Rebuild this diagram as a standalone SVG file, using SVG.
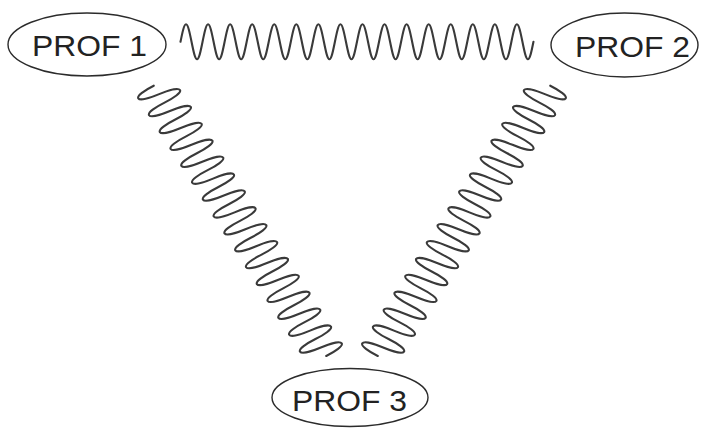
<svg xmlns="http://www.w3.org/2000/svg" width="702" height="428" viewBox="0 0 702 428">
  <style>
    .node ellipse { fill: #ffffff; stroke: #2b2b2b; stroke-width: 1.4; }
    .node text { font-family: "Liberation Sans", Arial, sans-serif; font-size: 29px; fill: #222222; }
    .spring { fill: none; stroke: #3a3a3a; stroke-width: 2.1; stroke-linecap: round; stroke-linejoin: round; }
  </style>
  <defs>
    <!-- sixteen periods of a unit sine wave (x in periods, y in amplitudes), built from quarter-wave cubics -->
    <path id="wave16" vector-effect="non-scaling-stroke" d="M0 0 c0.08153 0.5123 0.15952 1 0.25 1 s0.16847 -0.4877 0.25 -1 s0.15952 -1 0.25 -1 s0.16847 0.4877 0.25 1
      s0.15952 1 0.25 1 s0.16847 -0.4877 0.25 -1 s0.15952 -1 0.25 -1 s0.16847 0.4877 0.25 1
      s0.15952 1 0.25 1 s0.16847 -0.4877 0.25 -1 s0.15952 -1 0.25 -1 s0.16847 0.4877 0.25 1
      s0.15952 1 0.25 1 s0.16847 -0.4877 0.25 -1 s0.15952 -1 0.25 -1 s0.16847 0.4877 0.25 1
      s0.15952 1 0.25 1 s0.16847 -0.4877 0.25 -1 s0.15952 -1 0.25 -1 s0.16847 0.4877 0.25 1
      s0.15952 1 0.25 1 s0.16847 -0.4877 0.25 -1 s0.15952 -1 0.25 -1 s0.16847 0.4877 0.25 1
      s0.15952 1 0.25 1 s0.16847 -0.4877 0.25 -1 s0.15952 -1 0.25 -1 s0.16847 0.4877 0.25 1
      s0.15952 1 0.25 1 s0.16847 -0.4877 0.25 -1 s0.15952 -1 0.25 -1 s0.16847 0.4877 0.25 1
      s0.15952 1 0.25 1 s0.16847 -0.4877 0.25 -1 s0.15952 -1 0.25 -1 s0.16847 0.4877 0.25 1
      s0.15952 1 0.25 1 s0.16847 -0.4877 0.25 -1 s0.15952 -1 0.25 -1 s0.16847 0.4877 0.25 1
      s0.15952 1 0.25 1 s0.16847 -0.4877 0.25 -1 s0.15952 -1 0.25 -1 s0.16847 0.4877 0.25 1
      s0.15952 1 0.25 1 s0.16847 -0.4877 0.25 -1 s0.15952 -1 0.25 -1 s0.16847 0.4877 0.25 1
      s0.15952 1 0.25 1 s0.16847 -0.4877 0.25 -1 s0.15952 -1 0.25 -1 s0.16847 0.4877 0.25 1
      s0.15952 1 0.25 1 s0.16847 -0.4877 0.25 -1 s0.15952 -1 0.25 -1 s0.16847 0.4877 0.25 1
      s0.15952 1 0.25 1 s0.16847 -0.4877 0.25 -1 s0.15952 -1 0.25 -1 s0.16847 0.4877 0.25 1
      s0.15952 1 0.25 1 s0.16847 -0.4877 0.25 -1 s0.15952 -1 0.25 -1 s0.16847 0.4877 0.25 1"/>
    <!-- sixteen coil turns: the same wave, but the advance along the axis bunches up at the
         turning points so that each turn closes into a rounded, oval-ended loop -->
    <path id="coil16" vector-effect="non-scaling-stroke" d="M0 0 c0.01667 0.5236 0.1 1 0.25 1 s0.2333 -0.4764 0.25 -1 s0.1 -1 0.25 -1 s0.2333 0.4764 0.25 1
      s0.1 1 0.25 1 s0.2333 -0.4764 0.25 -1 s0.1 -1 0.25 -1 s0.2333 0.4764 0.25 1
      s0.1 1 0.25 1 s0.2333 -0.4764 0.25 -1 s0.1 -1 0.25 -1 s0.2333 0.4764 0.25 1
      s0.1 1 0.25 1 s0.2333 -0.4764 0.25 -1 s0.1 -1 0.25 -1 s0.2333 0.4764 0.25 1
      s0.1 1 0.25 1 s0.2333 -0.4764 0.25 -1 s0.1 -1 0.25 -1 s0.2333 0.4764 0.25 1
      s0.1 1 0.25 1 s0.2333 -0.4764 0.25 -1 s0.1 -1 0.25 -1 s0.2333 0.4764 0.25 1
      s0.1 1 0.25 1 s0.2333 -0.4764 0.25 -1 s0.1 -1 0.25 -1 s0.2333 0.4764 0.25 1
      s0.1 1 0.25 1 s0.2333 -0.4764 0.25 -1 s0.1 -1 0.25 -1 s0.2333 0.4764 0.25 1
      s0.1 1 0.25 1 s0.2333 -0.4764 0.25 -1 s0.1 -1 0.25 -1 s0.2333 0.4764 0.25 1
      s0.1 1 0.25 1 s0.2333 -0.4764 0.25 -1 s0.1 -1 0.25 -1 s0.2333 0.4764 0.25 1
      s0.1 1 0.25 1 s0.2333 -0.4764 0.25 -1 s0.1 -1 0.25 -1 s0.2333 0.4764 0.25 1
      s0.1 1 0.25 1 s0.2333 -0.4764 0.25 -1 s0.1 -1 0.25 -1 s0.2333 0.4764 0.25 1
      s0.1 1 0.25 1 s0.2333 -0.4764 0.25 -1 s0.1 -1 0.25 -1 s0.2333 0.4764 0.25 1
      s0.1 1 0.25 1 s0.2333 -0.4764 0.25 -1 s0.1 -1 0.25 -1 s0.2333 0.4764 0.25 1
      s0.1 1 0.25 1 s0.2333 -0.4764 0.25 -1 s0.1 -1 0.25 -1 s0.2333 0.4764 0.25 1
      s0.1 1 0.25 1 s0.2333 -0.4764 0.25 -1 s0.1 -1 0.25 -1 s0.2333 0.4764 0.25 1"/>
  </defs>

  <!-- springs linking the three nodes -->
  <g id="connectors">
    <!-- PROF 1 to PROF 2: horizontal spring, 16 periods -->
    <use class="spring" href="#wave16" transform="matrix(22.06 0 0 -17.5 180.5 41.8)"/>
    <!-- PROF 1 to PROF 3: coil running down to the right -->
    <use class="spring" href="#coil16" transform="matrix(10.78 16.89 -18.15 8.38 153.76 85.71)"/>
    <!-- PROF 2 to PROF 3: mirror image of the coil above -->
    <use class="spring" href="#coil16" transform="matrix(-10.78 16.89 18.15 8.38 550.24 85.71)"/>
  </g>

  <g id="prof1" class="node">
    <ellipse cx="87" cy="44.5" rx="79" ry="31.5"/>
    <text x="32" y="55.5" textLength="115" lengthAdjust="spacingAndGlyphs">PROF 1</text>
  </g>
  <g id="prof2" class="node">
    <ellipse cx="624.5" cy="45" rx="73.5" ry="32"/>
    <text x="575" y="56.5" textLength="115" lengthAdjust="spacingAndGlyphs">PROF 2</text>
  </g>
  <g id="prof3" class="node">
    <ellipse cx="350" cy="397.5" rx="78" ry="29"/>
    <text x="292" y="411" textLength="115" lengthAdjust="spacingAndGlyphs">PROF 3</text>
  </g>
</svg>
